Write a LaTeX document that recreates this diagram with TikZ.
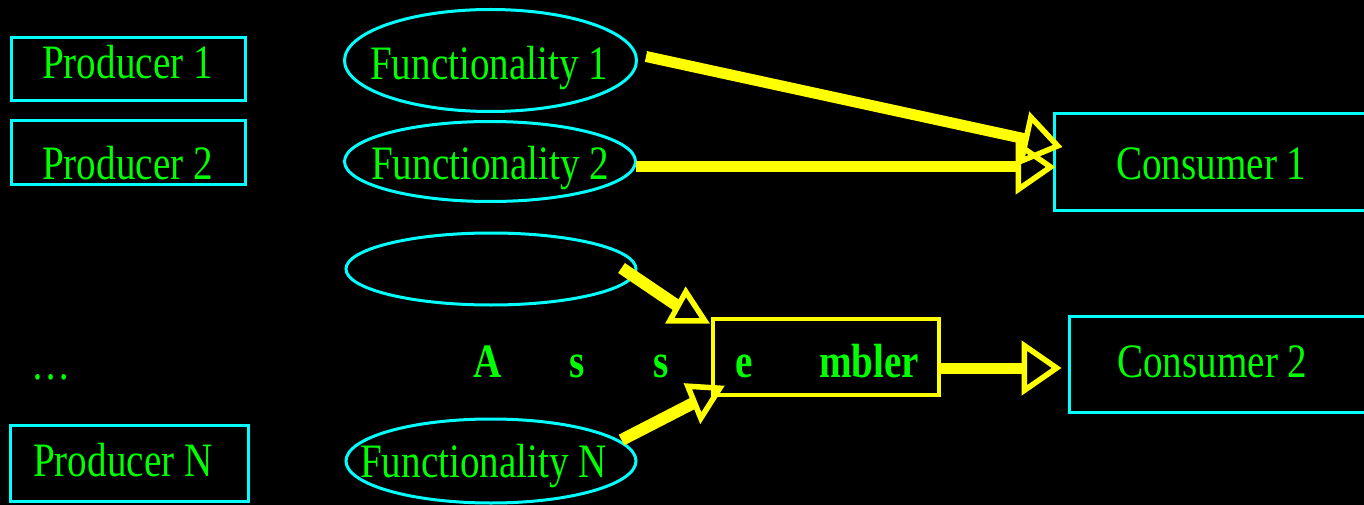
\documentclass[tikz,border=0pt]{standalone}
\usepackage{fontspec}
\setmainfont[FakeStretch=0.815]{Liberation Serif}
\usetikzlibrary{arrows.meta,shapes.geometric}
\definecolor{cy}{RGB}{0,255,255}
\definecolor{gr}{RGB}{0,255,0}
\definecolor{ye}{RGB}{255,255,0}
\begin{document}
\begin{tikzpicture}[x=1pt,y=-1pt,
  box/.style={draw=cy, line width=3pt, rectangle, inner sep=0pt},
  ell/.style={draw=cy, line width=3pt, ellipse, inner sep=0pt},
  asmbox/.style={draw=ye, line width=4.5pt},
  lbl/.style={anchor=base west, inner sep=0pt, text=gr, font=\fontsize{48}{56}\selectfont},
  blbl/.style={anchor=base west, inner sep=0pt, text=gr, font=\fontsize{48}{56}\selectfont\bfseries},
  conn/.style={draw=ye, line width=11pt, -{Triangle[open,length=40pt,width=54pt,line width=5.5pt]}},
  plainconn/.style={draw=ye, line width=12pt},
  headtri/.style={draw=ye, fill=black, line width=5.5pt}]
\fill[black] (0,0) rectangle (1364,505);
\useasboundingbox (0,0) rectangle (1364,505);
\clip (0,0) rectangle (1364,505);
% shapes
\node[box, minimum width=234pt, minimum height=63pt] (p1) at (128,69.5) {};
\node[box, minimum width=234pt, minimum height=64pt] (p2) at (128,153) {};
\node[box, minimum width=238pt, minimum height=76pt] (pN) at (129,463) {};
\node[ell, minimum width=292pt, minimum height=102pt] (f1) at (490.5,60.5) {};
\node[ell, minimum width=291pt, minimum height=80pt] (f2) at (490,161.5) {};
\node[ell, minimum width=290pt, minimum height=72pt] (f3) at (491,269) {};
\node[ell, minimum width=290pt, minimum height=84pt] (fN) at (491,461) {};
\node[box, minimum width=316pt, minimum height=96pt] (c1) at (1212,162) {};
\node[box, minimum width=300pt, minimum height=96pt] (c2) at (1219,364) {};
\node[inner sep=0pt, minimum width=226pt, minimum height=76pt] (asm) at (826,357) {};
% texts
\node[lbl] (tp1) at (42,79) {Producer 1};
\node[lbl] (tp2) at (42,179) {Producer 2};
\node[lbl] (tdots) at (31,379) {…};
\node[lbl] (tpN) at (33,476) {Producer N};
\node[lbl] (tf1) at (370,80) {Functionality 1};
\node[lbl] (tf2) at (371,179) {Functionality 2};
\node[lbl] (tfN) at (360,477) {Functionality N};
\node[lbl] (tc1) at (1116,179) {Consumer 1};
\node[lbl] (tc2) at (1117,377) {Consumer 2};
\node[blbl] (ta1) at (473,377) {A};
\node[blbl] (ta2) at (569,377) {s};
\node[blbl] (ta3) at (653,377) {s};
\node[blbl] (ta4) at (735,377) {e};
\node[blbl] (ta5) at (819,377) {mbler};
% connectors
\draw[conn] ([shift={(8,-4)}]f1.east) -- ([shift={(10,-15)}]c1.west);
\draw[conn] ([shift={(-1,5.5)}]f2.east) -- ([shift={(3,5)}]c1.west);
\draw[conn] ([shift={(0,11)}]asm.east) -- ([shift={(-6,4)}]c2.west);
\draw[plainconn] ([shift={(-16,-1)}]f3.east) -- ([shift={(-31,-10)}]asm.north west);
\draw[headtri] ([shift={(-27,-27)}]asm.north west) -- ([shift={(-8,2)}]asm.north west) -- ([shift={(-43,2)}]asm.north west) -- cycle;
\draw[plainconn] ([shift={(-16,-21)}]fN.east) -- ([shift={(-10,3)}]asm.south west);
\draw[headtri] ([shift={(-25,-9)}]asm.south west) -- ([shift={(7,-7)}]asm.south west) -- ([shift={(-12,23)}]asm.south west) -- cycle;
\draw[asmbox] (asm.south west) rectangle (asm.north east);
\end{tikzpicture}
\end{document}
